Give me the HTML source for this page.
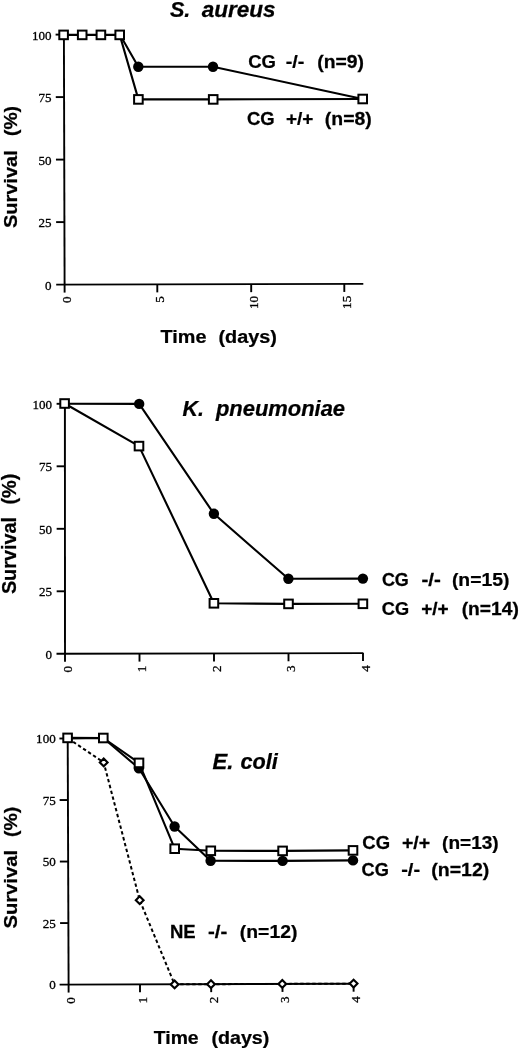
<!DOCTYPE html>
<html><head><meta charset="utf-8"><style>
html,body{margin:0;padding:0;background:#fff;}
svg{display:block;}
text{stroke:none;fill:#000;white-space:pre;}
.tk{font-family:"Liberation Serif",serif;stroke:#000;stroke-width:0.3px;}
.ti{font-family:"Liberation Sans",sans-serif;font-weight:bold;font-style:italic;stroke:#000;stroke-width:0.25px;}
.lg{font-family:"Liberation Sans",sans-serif;font-weight:bold;stroke:#000;stroke-width:0.25px;}
</style></head><body>
<svg width="520" height="1050" viewBox="0 0 520 1050" stroke="#000" stroke-linecap="butt">
<line x1="63.90" y1="34.60" x2="64.60" y2="284.60" stroke-width="1.9"/>
<line x1="56.20" y1="284.60" x2="363.30" y2="283.90" stroke-width="1.9"/>
<line x1="55.60" y1="34.60" x2="63.90" y2="34.60" stroke-width="1.9"/>
<line x1="55.78" y1="97.10" x2="64.08" y2="97.10" stroke-width="1.9"/>
<line x1="55.95" y1="159.60" x2="64.25" y2="159.60" stroke-width="1.9"/>
<line x1="56.12" y1="222.10" x2="64.42" y2="222.10" stroke-width="1.9"/>
<line x1="64.60" y1="284.58" x2="64.60" y2="292.58" stroke-width="1.9"/>
<text class="tk" text-anchor="end" style="font-size:13.333px" transform="matrix(0,-0.97993,1,0,71.17,296.48)">0</text>
<line x1="157.30" y1="284.37" x2="157.30" y2="292.37" stroke-width="1.9"/>
<text class="tk" text-anchor="end" style="font-size:13.333px" transform="matrix(0,-0.97993,1,0,163.87,296.27)">5</text>
<line x1="251.20" y1="284.16" x2="251.20" y2="292.16" stroke-width="1.9"/>
<text class="tk" text-anchor="end" style="font-size:13.333px" transform="matrix(0,-0.97993,1,0,257.77,296.06)">10</text>
<line x1="344.30" y1="283.94" x2="344.30" y2="291.94" stroke-width="1.9"/>
<text class="tk" text-anchor="end" style="font-size:13.333px" transform="matrix(0,-0.97993,1,0,350.87,295.84)">15</text>
<text class="tk" style="font-size:13.333px" transform="matrix(0.97993,0,0,1,31.92,39.57)">100</text>
<text class="tk" style="font-size:13.333px" transform="matrix(0.97993,0,0,1,38.46,102.00)">75</text>
<text class="tk" style="font-size:13.333px" transform="matrix(0.97993,0,0,1,38.46,164.57)">50</text>
<text class="tk" style="font-size:13.333px" transform="matrix(0.97993,0,0,1,38.46,227.03)">25</text>
<text class="tk" style="font-size:13.333px" transform="matrix(0.97993,0,0,1,44.99,289.57)">0</text>
<polyline points="119.81,34.60 138.30,66.70 213.00,66.70 362.70,99.00" fill="none" stroke-width="2.1" stroke-linejoin="round"/>
<polyline points="63.60,34.90 82.20,34.90 100.90,34.90 119.70,34.90 138.40,99.40 213.20,99.40 362.70,99.00" fill="none" stroke-width="2.1" stroke-linejoin="round"/>
<circle cx="138.30" cy="66.70" r="5.2" fill="#000" stroke="none"/>
<circle cx="213.00" cy="66.70" r="5.2" fill="#000" stroke="none"/>
<rect x="59.30" y="30.60" width="8.60" height="8.60" fill="#fff" stroke-width="2.0"/>
<rect x="77.90" y="30.60" width="8.60" height="8.60" fill="#fff" stroke-width="2.0"/>
<rect x="96.60" y="30.60" width="8.60" height="8.60" fill="#fff" stroke-width="2.0"/>
<rect x="115.40" y="30.60" width="8.60" height="8.60" fill="#fff" stroke-width="2.0"/>
<rect x="134.10" y="95.10" width="8.60" height="8.60" fill="#fff" stroke-width="2.0"/>
<rect x="208.90" y="95.10" width="8.60" height="8.60" fill="#fff" stroke-width="2.0"/>
<rect x="358.40" y="94.70" width="8.60" height="8.60" fill="#fff" stroke-width="2.0"/>
<text class="ti" style="font-size:21.831px" transform="matrix(0.98931,0,0,1,169.93,17.03)">S.</text>
<text class="ti" style="font-size:21.831px" transform="matrix(1.03206,0,0,1,201.69,17.03)">aureus</text>
<text class="lg" style="font-size:17.746px" transform="matrix(1.04246,0,0,1,248.16,68.42)">CG</text>
<text class="lg" style="font-size:17.746px" transform="matrix(1.11396,0,0,1,285.71,68.42)">-/-</text>
<text class="lg" style="font-size:17.746px" transform="matrix(1.09047,0,0,1,317.23,68.42)">(n=9)</text>
<text class="lg" style="font-size:17.887px" transform="matrix(1.03425,0,0,1,246.96,124.92)">CG</text>
<text class="lg" style="font-size:17.887px" transform="matrix(1.06487,0,0,1,285.94,124.92)">+/+</text>
<text class="lg" style="font-size:17.887px" transform="matrix(1.08672,0,0,1,324.83,124.92)">(n=8)</text>
<text class="lg" style="font-size:18.503px" transform="matrix(1.06898,0,0,1,160.60,342.61)">Time</text>
<text class="lg" style="font-size:18.503px" transform="matrix(1.07328,0,0,1,218.41,342.61)">(days)</text>
<text class="lg" style="font-size:18.639px" transform="matrix(0,-1.07299,1,0,16.61,228.10)">Survival</text>
<text class="lg" style="font-size:18.639px" transform="matrix(0,-1.03981,1,0,16.61,136.07)">(%)</text>
<line x1="64.90" y1="403.80" x2="65.00" y2="653.80" stroke-width="1.9"/>
<line x1="56.50" y1="653.80" x2="363.40" y2="653.10" stroke-width="1.9"/>
<line x1="56.60" y1="403.80" x2="64.90" y2="403.80" stroke-width="1.9"/>
<line x1="56.63" y1="466.30" x2="64.93" y2="466.30" stroke-width="1.9"/>
<line x1="56.65" y1="528.80" x2="64.95" y2="528.80" stroke-width="1.9"/>
<line x1="56.67" y1="591.30" x2="64.97" y2="591.30" stroke-width="1.9"/>
<line x1="65.00" y1="653.78" x2="65.00" y2="661.78" stroke-width="1.9"/>
<text class="tk" text-anchor="end" style="font-size:13.333px" transform="matrix(0,-0.97993,1,0,71.57,665.88)">0</text>
<line x1="139.50" y1="653.61" x2="139.50" y2="661.61" stroke-width="1.9"/>
<text class="tk" text-anchor="end" style="font-size:13.333px" transform="matrix(0,-0.97993,1,0,146.07,665.71)">1</text>
<line x1="214.00" y1="653.44" x2="214.00" y2="661.44" stroke-width="1.9"/>
<text class="tk" text-anchor="end" style="font-size:13.333px" transform="matrix(0,-0.97993,1,0,220.57,665.54)">2</text>
<line x1="288.50" y1="653.27" x2="288.50" y2="661.27" stroke-width="1.9"/>
<text class="tk" text-anchor="end" style="font-size:13.333px" transform="matrix(0,-0.97993,1,0,295.07,665.37)">3</text>
<line x1="363.00" y1="653.10" x2="363.00" y2="661.10" stroke-width="1.9"/>
<text class="tk" text-anchor="end" style="font-size:13.333px" transform="matrix(0,-0.97993,1,0,369.57,665.20)">4</text>
<text class="tk" style="font-size:13.333px" transform="matrix(0.97993,0,0,1,32.52,408.67)">100</text>
<text class="tk" style="font-size:13.333px" transform="matrix(0.97993,0,0,1,39.06,471.10)">75</text>
<text class="tk" style="font-size:13.333px" transform="matrix(0.97993,0,0,1,39.06,533.67)">50</text>
<text class="tk" style="font-size:13.333px" transform="matrix(0.97993,0,0,1,39.06,596.13)">25</text>
<text class="tk" style="font-size:13.333px" transform="matrix(0.97993,0,0,1,45.59,658.67)">0</text>
<polyline points="65.00,403.80 139.20,403.90 213.90,513.80 288.40,578.80 362.90,578.60" fill="none" stroke-width="2.1" stroke-linejoin="round"/>
<polyline points="64.60,403.50 139.00,446.10 213.90,603.30 288.50,603.90 362.90,603.80" fill="none" stroke-width="2.1" stroke-linejoin="round"/>
<circle cx="139.20" cy="403.90" r="5.2" fill="#000" stroke="none"/>
<circle cx="213.90" cy="513.80" r="5.2" fill="#000" stroke="none"/>
<circle cx="288.40" cy="578.80" r="5.2" fill="#000" stroke="none"/>
<circle cx="362.90" cy="578.60" r="5.2" fill="#000" stroke="none"/>
<rect x="60.30" y="399.20" width="8.60" height="8.60" fill="#fff" stroke-width="2.0"/>
<rect x="134.70" y="441.80" width="8.60" height="8.60" fill="#fff" stroke-width="2.0"/>
<rect x="209.60" y="599.00" width="8.60" height="8.60" fill="#fff" stroke-width="2.0"/>
<rect x="284.20" y="599.60" width="8.60" height="8.60" fill="#fff" stroke-width="2.0"/>
<rect x="358.60" y="599.50" width="8.60" height="8.60" fill="#fff" stroke-width="2.0"/>
<text class="ti" style="font-size:21.594px" transform="matrix(0.99344,0,0,1,182.57,415.90)">K.</text>
<text class="ti" style="font-size:21.594px" transform="matrix(1.01517,0,0,1,215.94,415.90)">pneumoniae</text>
<text class="lg" style="font-size:17.746px" transform="matrix(1.01429,0,0,1,381.88,585.82)">CG</text>
<text class="lg" style="font-size:17.746px" transform="matrix(1.15956,0,0,1,421.38,585.82)">-/-</text>
<text class="lg" style="font-size:17.746px" transform="matrix(1.08974,0,0,1,451.93,585.82)">(n=15)</text>
<text class="lg" style="font-size:17.606px" transform="matrix(1.03457,0,0,1,381.87,614.62)">CG</text>
<text class="lg" style="font-size:17.606px" transform="matrix(1.08190,0,0,1,421.14,614.62)">+/+</text>
<text class="lg" style="font-size:17.606px" transform="matrix(1.09254,0,0,1,461.64,614.62)">(n=14)</text>
<text class="lg" style="font-size:19.592px" transform="matrix(0,-1.01275,1,0,16.40,594.10)">Survival</text>
<text class="lg" style="font-size:19.592px" transform="matrix(0,-1.01733,1,0,16.40,504.60)">(%)</text>
<line x1="67.70" y1="738.50" x2="68.60" y2="984.60" stroke-width="1.9"/>
<line x1="59.60" y1="984.60" x2="353.80" y2="983.70" stroke-width="1.9"/>
<line x1="59.40" y1="738.50" x2="67.70" y2="738.50" stroke-width="1.9"/>
<line x1="59.62" y1="800.03" x2="67.92" y2="800.03" stroke-width="1.9"/>
<line x1="59.85" y1="861.55" x2="68.15" y2="861.55" stroke-width="1.9"/>
<line x1="60.08" y1="923.08" x2="68.38" y2="923.08" stroke-width="1.9"/>
<line x1="68.60" y1="984.57" x2="68.60" y2="992.57" stroke-width="1.9"/>
<text class="tk" text-anchor="end" style="font-size:13.333px" transform="matrix(0,-0.97993,1,0,75.17,997.17)">0</text>
<line x1="140.00" y1="984.35" x2="140.00" y2="992.35" stroke-width="1.9"/>
<text class="tk" text-anchor="end" style="font-size:13.333px" transform="matrix(0,-0.97993,1,0,146.57,996.95)">1</text>
<line x1="211.20" y1="984.14" x2="211.20" y2="992.14" stroke-width="1.9"/>
<text class="tk" text-anchor="end" style="font-size:13.333px" transform="matrix(0,-0.97993,1,0,217.77,996.74)">2</text>
<line x1="282.50" y1="983.92" x2="282.50" y2="991.92" stroke-width="1.9"/>
<text class="tk" text-anchor="end" style="font-size:13.333px" transform="matrix(0,-0.97993,1,0,289.07,996.52)">3</text>
<line x1="353.60" y1="983.70" x2="353.60" y2="991.70" stroke-width="1.9"/>
<text class="tk" text-anchor="end" style="font-size:13.333px" transform="matrix(0,-0.97993,1,0,360.17,996.30)">4</text>
<text class="tk" style="font-size:13.333px" transform="matrix(0.97993,0,0,1,36.12,743.37)">100</text>
<text class="tk" style="font-size:13.333px" transform="matrix(0.97993,0,0,1,42.66,804.83)">75</text>
<text class="tk" style="font-size:13.333px" transform="matrix(0.97993,0,0,1,42.66,866.42)">50</text>
<text class="tk" style="font-size:13.333px" transform="matrix(0.97993,0,0,1,42.66,927.91)">25</text>
<text class="tk" style="font-size:13.333px" transform="matrix(0.97993,0,0,1,49.19,989.47)">0</text>
<polyline points="68.20,738.50 103.70,762.40 139.70,900.20 174.60,984.40 211.00,984.20 282.30,983.90 353.60,983.60" fill="none" stroke-width="2.0" stroke-linejoin="round" stroke-dasharray="3.4,2.6"/>
<polyline points="68.20,738.50 103.30,738.00 138.90,768.30 174.60,826.50 210.60,860.80 282.60,860.90 353.00,860.40" fill="none" stroke-width="2.1" stroke-linejoin="round"/>
<polyline points="67.60,737.90 103.30,738.00 139.00,762.90 174.70,848.70 210.80,850.80 282.60,850.90 353.00,850.40" fill="none" stroke-width="2.1" stroke-linejoin="round"/>
<circle cx="138.90" cy="768.30" r="5.2" fill="#000" stroke="none"/>
<circle cx="174.60" cy="826.50" r="5.2" fill="#000" stroke="none"/>
<circle cx="210.60" cy="860.80" r="5.2" fill="#000" stroke="none"/>
<circle cx="282.60" cy="860.90" r="5.2" fill="#000" stroke="none"/>
<circle cx="353.00" cy="860.40" r="5.2" fill="#000" stroke="none"/>
<rect x="63.30" y="733.60" width="8.60" height="8.60" fill="#fff" stroke-width="2.0"/>
<rect x="99.00" y="733.70" width="8.60" height="8.60" fill="#fff" stroke-width="2.0"/>
<rect x="134.70" y="758.60" width="8.60" height="8.60" fill="#fff" stroke-width="2.0"/>
<rect x="170.40" y="844.40" width="8.60" height="8.60" fill="#fff" stroke-width="2.0"/>
<rect x="206.50" y="846.50" width="8.60" height="8.60" fill="#fff" stroke-width="2.0"/>
<rect x="278.30" y="846.60" width="8.60" height="8.60" fill="#fff" stroke-width="2.0"/>
<rect x="348.70" y="846.10" width="8.60" height="8.60" fill="#fff" stroke-width="2.0"/>
<polygon points="103.70,758.50 107.60,762.40 103.70,766.30 99.80,762.40" fill="#fff" stroke-width="2.1"/>
<polygon points="139.70,896.30 143.60,900.20 139.70,904.10 135.80,900.20" fill="#fff" stroke-width="2.1"/>
<polygon points="174.60,980.50 178.50,984.40 174.60,988.30 170.70,984.40" fill="#fff" stroke-width="2.1"/>
<polygon points="211.00,980.30 214.90,984.20 211.00,988.10 207.10,984.20" fill="#fff" stroke-width="2.1"/>
<polygon points="282.30,980.00 286.20,983.90 282.30,987.80 278.40,983.90" fill="#fff" stroke-width="2.1"/>
<polygon points="353.60,979.70 357.50,983.60 353.60,987.50 349.70,983.60" fill="#fff" stroke-width="2.1"/>
<text class="ti" style="font-size:21.304px" transform="matrix(1.03377,0,0,1,212.56,768.80)">E.</text>
<text class="ti" style="font-size:21.304px" transform="matrix(1.01563,0,0,1,240.55,768.80)">coli</text>
<text class="lg" style="font-size:18.169px" transform="matrix(1.01822,0,0,1,362.36,849.12)">CG</text>
<text class="lg" style="font-size:18.169px" transform="matrix(1.07658,0,0,1,401.92,849.12)">+/+</text>
<text class="lg" style="font-size:18.169px" transform="matrix(1.04909,0,0,1,442.05,849.12)">(n=13)</text>
<text class="lg" style="font-size:17.887px" transform="matrix(1.01828,0,0,1,361.57,876.22)">CG</text>
<text class="lg" style="font-size:17.887px" transform="matrix(1.11811,0,0,1,401.20,876.22)">-/-</text>
<text class="lg" style="font-size:17.887px" transform="matrix(1.09283,0,0,1,431.22,876.22)">(n=12)</text>
<text class="lg" style="font-size:18.116px" transform="matrix(1.02238,0,0,1,170.00,937.80)">NE</text>
<text class="lg" style="font-size:18.116px" transform="matrix(1.12953,0,0,1,207.98,937.80)">-/-</text>
<text class="lg" style="font-size:18.116px" transform="matrix(1.06944,0,0,1,239.83,937.80)">(n=12)</text>
<text class="lg" style="font-size:17.959px" transform="matrix(1.07684,0,0,1,153.81,1043.82)">Time</text>
<text class="lg" style="font-size:17.959px" transform="matrix(1.09406,0,0,1,211.42,1043.82)">(days)</text>
<text class="lg" style="font-size:18.776px" transform="matrix(0,-1.07505,1,0,17.01,928.51)">Survival</text>
<text class="lg" style="font-size:18.776px" transform="matrix(0,-1.03593,1,0,17.01,836.97)">(%)</text>
</svg>
</body></html>
